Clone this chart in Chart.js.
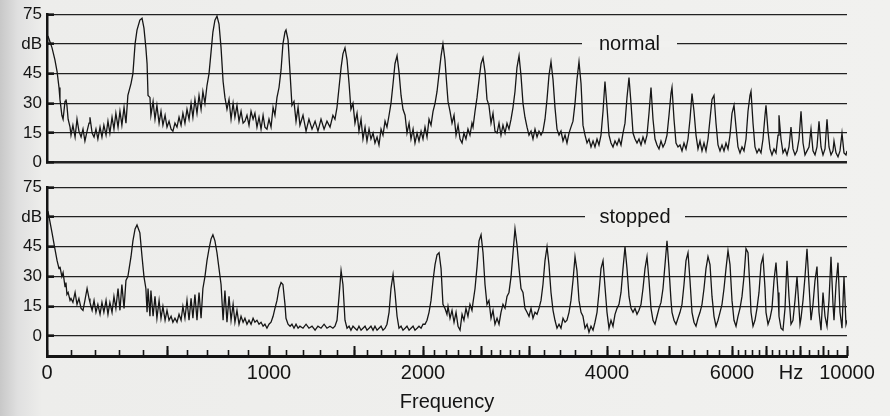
<!DOCTYPE html>
<html>
<head>
<meta charset="utf-8">
<script src="https://cdn.jsdelivr.net/npm/chart.js@4.4.1/dist/chart.umd.min.js"></script>
<style>
  html, body { margin: 0; padding: 0; }
  body {
    width: 890px; height: 416px; position: relative; overflow: hidden;
    background: linear-gradient(to right, #c8c8c8 0px, #e0e0e0 18px, #ededeb 42px, #f1f1ef 100%);
  }
  canvas { position: absolute; left: 0; }
  #normal { top: -8px; }
  #stopped { top: 165px; }
</style>
</head>
<body>
<canvas id="normal" width="890" height="193"></canvas>
<canvas id="stopped" width="890" height="251"></canvas>
<script>
// frequency axis of the figure is stretched at the low end, these are its anchors
const axisHz = [0, 500, 1000, 1500, 2000, 2500, 3000, 4000, 6000, 8000, 10000]
const axisPos = [0, 120, 222, 307, 376, 435, 482, 560, 685, 753, 800]
const labelHz = [0, 1000, 2000, 4000, 6000, 10000]
const hzUnitAt = 7735
const longTickHz = [500, 1000, 1500, 2000, 2500, 3000, 4000, 5000, 6000, 7000, 8000, 9000, 10000]

const dbTicks = [0, 7.5, 15, 22.5, 30, 37.5, 45, 52.5, 60, 67.5, 75]
const dbLabels = { 0: '0', 15: '15', 30: '30', 45: '45', 60: 'dB', 75: '75' }

// [Hz, dB]
const normal = [
  [4,64],[21,58],[33,52],[42,46],[50,38],[54,32],[62,24],[67,22],[75,31],[79,32],[83,29],[88,22],[96,18],[100,14],
  [108,19],[117,13],[125,22],[133,16],[142,13],[150,17],[158,11],[167,16],[175,20],[179,23],[188,15],[196,13],
  [204,17],[212,12],[221,18],[229,13],[237,19],[246,14],[254,21],[262,15],[271,23],[279,17],[287,25],[296,18],
  [304,26],[312,19],[321,28],[329,20],[337,34],[350,40],[358,45],[367,60],[375,67],[387,72],[396,73],[404,68],
  [412,58],[417,50],[421,34],[429,33],[433,24],[442,31],[450,22],[458,29],[467,20],[475,26],[483,19],[492,24],
  [500,18],[510,21],[520,17],[529,16],[539,20],[549,18],[559,23],[569,19],[578,25],[588,20],[598,27],[608,22],
  [618,30],[627,23],[637,32],[647,25],[657,34],[667,27],[676,36],[686,30],[696,39],[706,45],[716,56],[725,66],
  [735,72],[745,74],[755,70],[765,58],[775,41],[784,33],[794,27],[804,32],[814,22],[824,30],[833,23],[843,29],
  [853,21],[863,26],[873,20],[882,21],[892,24],[902,19],[912,26],[922,22],[931,25],[941,18],[951,23],[961,17],
  [971,24],[980,18],[990,17],[1000,22],[1012,18],[1024,28],[1035,24],[1047,33],[1059,38],[1071,47],[1082,60],
  [1094,66],[1100,67],[1112,62],[1124,45],[1135,29],[1147,31],[1159,21],[1171,28],[1182,19],[1200,24],[1218,16],
  [1235,22],[1253,17],[1271,21],[1288,16],[1306,22],[1324,17],[1341,21],[1359,18],[1376,24],[1388,22],[1400,28],
  [1412,38],[1424,48],[1435,55],[1447,58],[1459,52],[1471,40],[1482,27],[1494,30],[1507,20],[1522,25],[1536,16],
  [1551,22],[1565,12],[1580,18],[1594,11],[1609,17],[1623,12],[1638,15],[1652,10],[1667,13],[1681,9],[1696,17],
  [1710,14],[1725,21],[1739,18],[1754,24],[1768,30],[1783,40],[1797,50],[1812,54],[1826,46],[1841,34],[1855,27],
  [1870,24],[1884,15],[1899,20],[1913,12],[1928,17],[1942,10],[1957,15],[1971,11],[1986,16],[2000,12],[2017,18],
  [2034,13],[2051,22],[2068,19],[2085,26],[2102,30],[2119,36],[2136,45],[2153,54],[2169,60],[2186,52],[2203,38],
  [2212,31],[2229,26],[2246,20],[2263,24],[2280,14],[2297,19],[2314,12],[2331,10],[2347,15],[2364,12],[2381,17],
  [2398,14],[2415,20],[2424,18],[2441,26],[2458,33],[2475,42],[2492,50],[2511,53],[2532,46],[2553,32],[2574,29],
  [2596,20],[2617,25],[2638,16],[2660,15],[2681,20],[2702,14],[2723,19],[2745,15],[2766,20],[2787,17],[2809,22],
  [2830,28],[2851,36],[2872,48],[2894,54],[2915,44],[2936,30],[2957,23],[2979,18],[3000,14],[3026,16],[3051,12],
  [3077,17],[3103,13],[3128,16],[3154,14],[3179,16],[3205,22],[3231,32],[3256,44],[3282,51],[3308,42],[3333,28],
  [3359,17],[3385,14],[3410,16],[3436,11],[3462,14],[3487,10],[3513,15],[3538,18],[3564,21],[3590,30],[3615,42],
  [3641,51],[3667,40],[3692,19],[3718,14],[3744,10],[3769,12],[3795,8],[3821,11],[3846,8],[3872,12],[3897,9],
  [3923,14],[3949,26],[3974,41],[4000,28],[4032,14],[4064,10],[4096,8],[4128,11],[4160,9],[4192,12],[4224,9],
  [4256,15],[4288,20],[4320,33],[4352,43],[4384,30],[4416,15],[4448,12],[4480,10],[4512,12],[4544,9],[4576,13],
  [4608,10],[4640,14],[4672,25],[4704,38],[4736,22],[4768,12],[4800,9],[4832,7],[4864,11],[4896,8],[4928,10],
  [4960,14],[4992,24],[5024,35],[5040,38],[5072,22],[5104,10],[5136,8],[5168,9],[5200,6],[5232,10],[5264,7],
  [5296,12],[5328,22],[5360,35],[5392,26],[5424,14],[5456,7],[5488,11],[5520,6],[5552,10],[5584,6],[5616,12],
  [5648,22],[5680,32],[5712,34],[5744,20],[5776,9],[5808,6],[5840,9],[5872,6],[5904,10],[5936,7],[5968,14],
  [6000,25],[6059,29],[6118,18],[6176,8],[6235,5],[6294,8],[6353,6],[6412,12],[6471,26],[6529,34],[6559,36],
  [6618,20],[6676,8],[6735,5],[6794,7],[6853,5],[6912,12],[6971,24],[7000,29],[7059,16],[7118,7],[7176,4],
  [7235,7],[7294,5],[7353,14],[7382,24],[7441,12],[7500,5],[7559,7],[7618,4],[7676,8],[7735,18],[7794,7],
  [7853,4],[7912,6],[7971,12],[8043,26],[8128,10],[8213,4],[8298,6],[8383,8],[8468,17],[8553,6],[8638,4],
  [8723,8],[8809,21],[8894,8],[8979,4],[9064,7],[9149,22],[9234,8],[9319,4],[9404,6],[9447,11],[9532,5],
  [9617,3],[9702,6],[9787,15],[9872,5],[9957,4],[10000,6]
]

const stopped = [
  [4,63],[21,52],[33,44],[42,38],[50,34],[54,35],[62,30],[67,32],[75,25],[79,27],[83,21],[88,22],[96,18],[100,19],
  [108,17],[117,22],[125,16],[133,19],[142,14],[150,13],[158,18],[167,24],[175,19],[179,17],[188,13],[196,18],
  [204,12],[212,16],[221,11],[229,17],[237,12],[246,18],[254,11],[262,17],[271,12],[279,20],[287,14],[296,24],
  [304,13],[312,26],[321,14],[329,28],[337,30],[350,40],[358,48],[367,54],[375,56],[387,52],[396,40],[404,30],
  [412,24],[417,12],[421,24],[429,10],[433,23],[442,10],[450,20],[458,9],[467,18],[475,9],[483,15],[492,8],
  [500,13],[510,8],[520,10],[529,7],[539,9],[549,7],[559,11],[569,8],[578,15],[588,9],[598,18],[608,8],[618,19],
  [627,9],[637,21],[647,8],[657,22],[667,9],[676,24],[686,30],[696,38],[706,44],[716,49],[725,51],[735,48],
  [745,42],[755,34],[765,26],[775,8],[784,23],[794,7],[804,20],[814,8],[824,16],[833,7],[843,13],[853,6],
  [863,10],[873,7],[882,9],[892,6],[902,8],[912,6],[922,9],[931,7],[941,8],[951,6],[961,7],[971,5],[980,6],
  [990,4],[1000,6],[1012,7],[1024,10],[1035,14],[1047,18],[1059,24],[1071,27],[1082,26],[1094,16],[1100,9],
  [1112,6],[1124,5],[1135,6],[1147,4],[1159,6],[1171,4],[1182,5],[1200,4],[1218,6],[1235,4],[1253,5],[1271,3],
  [1288,5],[1306,4],[1324,6],[1341,4],[1359,5],[1376,4],[1388,5],[1400,8],[1412,20],[1424,33],[1435,26],
  [1447,8],[1459,4],[1471,5],[1482,3],[1494,5],[1507,4],[1522,3],[1536,5],[1551,3],[1565,4],[1580,5],[1594,3],
  [1609,4],[1623,5],[1638,3],[1652,5],[1667,3],[1681,4],[1696,5],[1710,3],[1725,4],[1739,6],[1754,12],[1768,24],
  [1783,31],[1797,22],[1812,10],[1826,4],[1841,5],[1855,3],[1870,4],[1884,5],[1899,3],[1913,4],[1928,5],
  [1942,3],[1957,4],[1971,5],[1986,4],[2000,6],[2017,6],[2034,8],[2051,12],[2068,18],[2085,28],[2102,36],
  [2119,41],[2136,42],[2153,34],[2169,16],[2186,14],[2203,11],[2212,15],[2229,9],[2246,13],[2263,7],[2280,12],
  [2297,5],[2314,3],[2331,11],[2347,8],[2364,14],[2381,10],[2398,16],[2415,13],[2424,17],[2441,24],[2458,35],
  [2475,48],[2492,51],[2511,42],[2532,26],[2553,16],[2574,18],[2596,9],[2617,13],[2638,6],[2660,9],[2681,6],
  [2702,12],[2723,16],[2745,14],[2766,20],[2787,22],[2809,30],[2830,42],[2851,54],[2872,46],[2894,34],[2915,24],
  [2936,22],[2957,14],[2979,12],[3000,10],[3026,14],[3051,9],[3077,12],[3103,11],[3128,14],[3154,18],[3179,26],
  [3205,38],[3231,45],[3256,36],[3282,22],[3308,13],[3333,8],[3359,4],[3385,6],[3410,4],[3436,9],[3462,7],
  [3487,8],[3513,12],[3538,18],[3564,28],[3590,40],[3615,33],[3641,18],[3667,12],[3692,10],[3718,4],[3744,6],
  [3769,2],[3795,5],[3821,3],[3846,7],[3872,12],[3897,22],[3923,34],[3949,38],[3974,25],[4000,12],[4032,4],
  [4064,8],[4096,5],[4128,11],[4160,14],[4192,16],[4224,22],[4256,34],[4288,45],[4320,34],[4352,20],[4384,14],
  [4416,12],[4448,14],[4480,11],[4512,13],[4544,16],[4576,24],[4608,34],[4640,40],[4672,28],[4704,14],[4736,8],
  [4768,6],[4800,10],[4832,14],[4864,17],[4896,24],[4928,36],[4960,48],[4992,34],[5024,18],[5040,12],[5072,8],
  [5104,6],[5136,9],[5168,12],[5200,16],[5232,26],[5264,38],[5296,42],[5328,28],[5360,12],[5392,7],[5424,5],
  [5456,9],[5488,12],[5520,16],[5552,24],[5584,34],[5616,40],[5648,36],[5680,20],[5712,10],[5744,5],[5776,8],
  [5808,12],[5840,16],[5872,24],[5904,34],[5936,43],[5968,36],[6000,18],[6059,8],[6118,5],[6176,10],[6235,14],
  [6294,20],[6353,30],[6412,44],[6471,42],[6529,24],[6559,12],[6618,5],[6676,8],[6735,14],[6794,22],[6853,36],
  [6912,40],[6971,24],[7000,12],[7059,6],[7118,9],[7176,14],[7235,28],[7294,37],[7353,22],[7382,10],[7441,4],
  [7500,3],[7559,14],[7618,38],[7676,20],[7735,6],[7794,8],[7853,18],[7912,30],[7971,14],[8000,6],[8043,9],
  [8128,18],[8213,30],[8298,44],[8383,26],[8468,8],[8553,16],[8638,28],[8723,35],[8809,12],[8894,3],[8979,22],
  [9064,10],[9149,5],[9234,18],[9319,40],[9404,16],[9447,8],[9532,26],[9617,37],[9702,12],[9787,4],[9872,30],
  [9957,6],[10000,8]
]

const ink = '#141414'
const paper = '#f1f1ef'
const family = "'Liberation Sans', Arial, Helvetica, sans-serif"
Chart.defaults.font.family = family

function warp(f) {
  for (let i = 1; i < axisHz.length; i++) {
    if (f <= axisHz[i]) {
      const t = (f - axisHz[i - 1]) / (axisHz[i] - axisHz[i - 1])
      return axisPos[i - 1] + t * (axisPos[i] - axisPos[i - 1])
    }
  }
  return axisPos[axisPos.length - 1]
}

// short tick marks: 100 Hz up to 3 kHz, then 200 Hz, then 400 Hz
const shortTickHz = []
for (let f = 0; f <= 3000; f += 100) shortTickHz.push(f)
for (let f = 3200; f <= 8000; f += 200) shortTickHz.push(f)
for (let f = 8400; f <= 10000; f += 400) shortTickHz.push(f)

const gapLabel = {
  id: 'gapLabel',
  beforeDatasetsDraw(chart, args, opts) {
    const { ctx, chartArea, scales } = chart
    const y = scales.y.getPixelForValue(60)
    const x0 = chartArea.left + opts.from
    const x1 = chartArea.left + opts.to
    ctx.save()
    ctx.fillStyle = paper
    ctx.fillRect(x0, y - 3, x1 - x0, 6)
    ctx.fillStyle = ink
    ctx.font = '20px ' + family
    ctx.textAlign = 'center'
    ctx.textBaseline = 'alphabetic'
    ctx.fillText(opts.text, (x0 + x1) / 2, y + 6)
    ctx.restore()
  }
}

function dbAxis(min) {
  return {
    type: 'linear',
    min: min,
    max: 75,
    afterBuildTicks: s => { s.ticks = dbTicks.map(v => ({ value: v })) },
    afterFit: s => { s.width = 47 },
    border: { display: true, width: 2.5, color: ink },
    grid: {
      color: '#222',
      lineWidth: c => (min === 0 && c.tick && c.tick.value === 0) ? 2.6 : 1.3,
      drawTicks: true,
      tickLength: -7,
      tickWidth: c => (c.tick && c.tick.value in dbLabels) ? 2.6 : 0,
      tickColor: c => (c.tick && c.tick.value in dbLabels) ? ink : 'rgba(0,0,0,0)'
    },
    ticks: {
      padding: 12,
      color: ink,
      font: { size: 17 },
      callback: v => dbLabels[v] !== undefined ? dbLabels[v] : ''
    }
  }
}

// tick marks only, laid on the bottom edge of the lower panel
function tickRow(list, length, width) {
  return {
    type: 'linear',
    min: 0,
    max: 800,
    position: { y: -10 },
    afterBuildTicks: s => { s.ticks = list.map(f => ({ value: warp(f) })) },
    border: { display: false },
    grid: { drawOnChartArea: false, drawTicks: true, tickLength: -length, tickWidth: width, tickColor: ink },
    ticks: { display: false }
  }
}

function spectrum(points) {
  return {
    data: points.map(p => ({ x: warp(p[0]), y: p[1] })),
    borderColor: '#161616',
    borderWidth: 1.3,
    pointRadius: 0,
    tension: 0,
    fill: false
  }
}

const common = {
  responsive: false,
  animation: false,
  devicePixelRatio: 1,
  events: [],
  plugins: { legend: { display: false }, tooltip: { enabled: false } }
}

new Chart(document.getElementById('normal'), {
  type: 'line',
  data: { datasets: [spectrum(normal)] },
  plugins: [gapLabel],
  options: {
    ...common,
    layout: { padding: { top: 0, bottom: 0, left: 0, right: 43 } },
    plugins: { ...common.plugins, gapLabel: { text: 'normal', from: 535, to: 630 } },
    scales: {
      x: { type: 'linear', min: 0, max: 800, display: false },
      y: dbAxis(0)
    }
  }
})

const freqLabels = [...labelHz, hzUnitAt].sort((a, b) => a - b)

new Chart(document.getElementById('stopped'), {
  type: 'line',
  data: { datasets: [spectrum(stopped)] },
  plugins: [gapLabel],
  options: {
    ...common,
    layout: { padding: { top: 0, bottom: 2, left: 0, right: 43 } },
    plugins: { ...common.plugins, gapLabel: { text: 'stopped', from: 538, to: 638 } },
    scales: {
      x: {
        type: 'linear',
        min: 0,
        max: 800,
        position: 'bottom',
        afterBuildTicks: s => { s.ticks = freqLabels.map(f => ({ value: warp(f), hz: f })) },
        border: { display: true, width: 3, color: ink },
        grid: { drawOnChartArea: false, drawTicks: false },
        ticks: {
          autoSkip: false,
          maxRotation: 0,
          padding: 5,
          color: ink,
          font: { size: 20 },
          callback: (v, i, ticks) => ticks[i].hz === hzUnitAt ? 'Hz' : String(ticks[i].hz)
        },
        title: {
          display: true,
          text: 'Frequency',
          color: ink,
          font: { size: 20 },
          padding: { top: 0, bottom: 0 }
        }
      },
      xs: tickRow(shortTickHz, 6, 1.6),
      xl: tickRow(longTickHz, 10, 2),
      y: dbAxis(-10)
    }
  }
})
</script>
</body>
</html>
